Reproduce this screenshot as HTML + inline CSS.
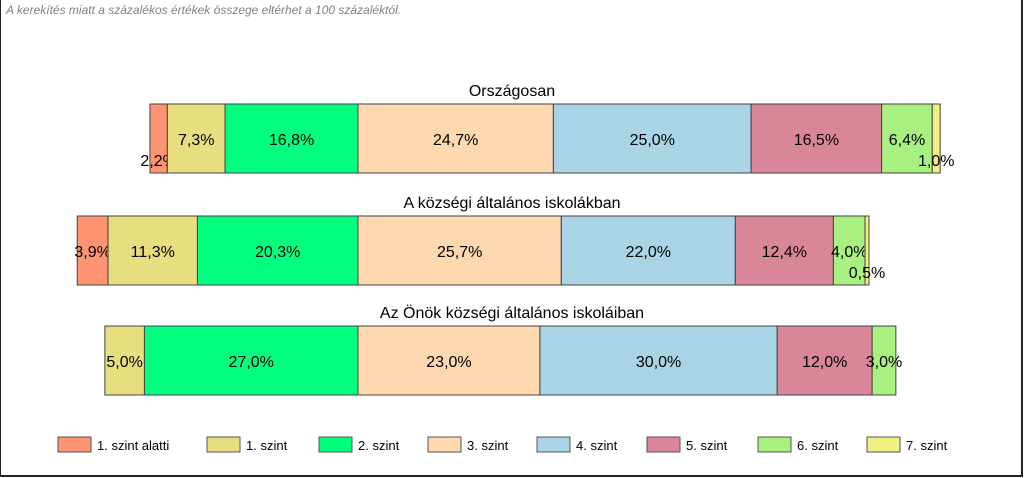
<!DOCTYPE html>
<html><head><meta charset="utf-8"><style>
body{margin:0;background:#fff;}
svg{display:block;font-family:"Liberation Sans",sans-serif;}
</style></head><body>
<svg id="c" width="1024" height="478">
<rect x="0" y="-2" width="1022" height="478" fill="#fff" stroke="#222" stroke-width="2"/>
<text x="6" y="14" font-size="12" font-style="italic" fill="#808080">A kerekítés miatt a  százalékos értékek összege eltérhet a 100 százaléktól.</text>
<g id="bars"></g>
<g id="legend"></g>
</svg>
<script>
const groups = ["Országosan", "A községi általános iskolákban", "Az Önök községi általános iskoláiban"];
const levels = ["1. szint alatti","1. szint","2. szint","3. szint","4. szint","5. szint","6. szint","7. szint"];
const valuesOrszagos = [2.2, 7.3, 16.8, 24.7, 25.0, 16.5, 6.4, 1.0];
const valuesKozsegi = [3.9, 11.3, 20.3, 25.7, 22.0, 12.4, 4.0, 0.5];
const valuesOnok = [0, 5.0, 27.0, 23.0, 30.0, 12.0, 3.0, 0];
const series = [valuesOrszagos, valuesKozsegi, valuesOnok];
const colors = ["#FF9473","#E8DE80","#00FF7F","#FFD8B0","#A8D4E6","#D9859A","#A8F080","#F0F080"];
const ns = "http://www.w3.org/2000/svg";
const pxPerPct = 7.91, anchorX = 358;
const barTops = [104, 216, 326], barH = 69;
const x = v => v * pxPerPct;
const gB = document.getElementById('bars');
function mk(tag, attrs, parent){const e=document.createElementNS(ns,tag);for(const k in attrs)e.setAttribute(k,attrs[k]);parent.appendChild(e);return e;}
series.forEach((vals, gi) => {
  const y = barTops[gi];
  const before = vals[0] + vals[1] + vals[2];
  let cx = anchorX - x(before);
  const t = mk('text', {x: 512, y: y - 8, 'font-size': 16, 'text-anchor': 'middle', fill: '#000'}, gB);
  
  
  t.textContent = groups[gi];
  vals.forEach((v, i) => {
    if (v <= 0) return;
    const w = x(v);
    const r = mk('rect', {x: cx, y: y, width: w, height: barH, fill: colors[i], stroke: '#444', 'stroke-width': 1}, gB);
    
    
    const lab = mk('text', {x: cx + w / 2, y: y + (v < 2.5 ? 62 : 41), 'font-size': 16, 'text-anchor': 'middle', fill: '#000'}, gB);
    
    
    lab.textContent = v.toFixed(1).replace('.', ',') + '%';
    cx += w;
  });
});
const legX = [58, 207, 319, 428, 537, 647, 758, 867];
const gL = document.getElementById('legend');
levels.forEach((l, i) => {
  const g = mk('g', {}, gL);
  
  
  mk('rect', {x: legX[i], y: 437, width: 33, height: 15, fill: colors[i], stroke: '#555', 'stroke-width': 1}, g);
  const t = mk('text', {x: legX[i] + 39, y: 450, 'font-size': 13, fill: '#000'}, g);
  t.textContent = l;
});
</script>
</body></html>
